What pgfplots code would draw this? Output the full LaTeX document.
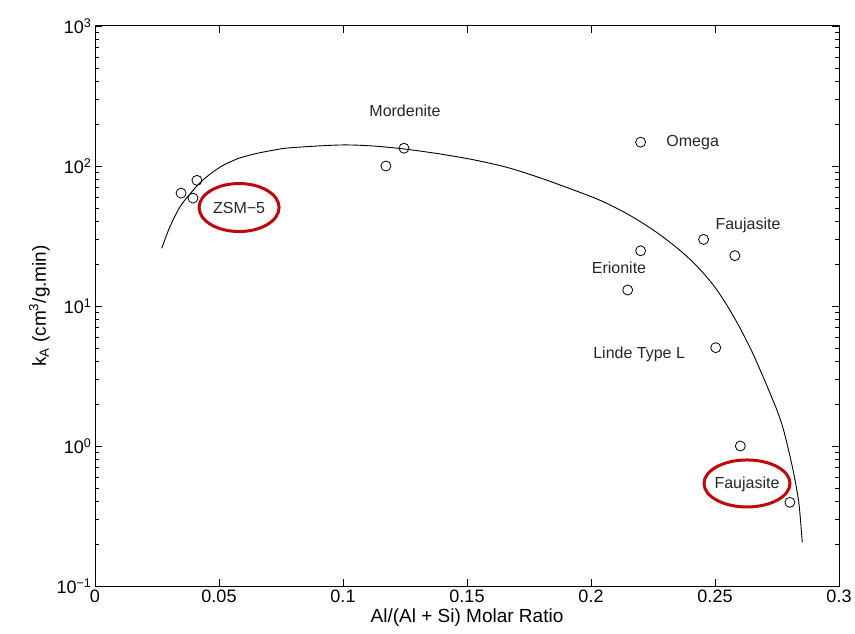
\documentclass[border=0pt]{standalone}
\usepackage{fontspec}
\setmainfont{Liberation Sans}
\usepackage{pgfplots}
\pgfplotsset{compat=1.18}
\definecolor{annred}{RGB}{192,8,8}
\tikzset{annot/.style={font=\fontsize{16bp}{18bp}\selectfont, text=black!85}}
\begin{document}
\begin{tikzpicture}
\begin{axis}[
  scale only axis, width=744bp, height=560bp,
  xmin=0, xmax=0.3, ymode=log, ymin=0.1, ymax=1000,
  xtick={0,0.05,0.1,0.15,0.2,0.25,0.3},
  xticklabels={0,0.05,0.1,0.15,0.2,0.25,0.3},
  ytick={0.1,1,10,100,1000},
  yticklabels={10\textsuperscript{−1},10\textsuperscript{0},10\textsuperscript{1},10\textsuperscript{2},10\textsuperscript{3}},
  tick align=inside,
  major tick length=7bp, minor tick length=4bp,
  axis line style={line width=1bp},
  every tick/.style={black, line width=0.7bp},
  ticklabel style={font=\fontsize{18bp}{20bp}\selectfont},
  label style={font=\fontsize{19bp}{22bp}\selectfont},
  xlabel={Al/(Al + Si) Molar Ratio},
  ylabel={k\textsubscript{A} (cm\textsuperscript{3}/g.min)},
]
\addplot[black, line width=0.9bp, smooth, tension=0.5] coordinates {
  (0.0269,25.8) (0.0302,36.8) (0.0343,51.2) (0.0383,63.1) (0.0423,75.9)
  (0.0470,89.1) (0.0517,101.2) (0.0580,113.5) (0.0652,123.0) (0.0720,129.7)
  (0.0786,134.9) (0.0988,141.3)
  (0.1120,139.0) (0.1250,132.1) (0.1391,121.9) (0.1525,110.9) (0.1660,97.9)
  (0.1794,82.4) (0.1929,67.5) (0.200,60.5) (0.205,55.5) (0.210,50.3)
  (0.215,45.1) (0.220,39.96) (0.225,35.0) (0.230,30.2) (0.235,25.7)
  (0.240,21.5) (0.245,17.4) (0.250,13.6) (0.255,10.0) (0.260,7.01)
  (0.265,4.68) (0.270,2.95) (0.2729,2.22) (0.275,1.80) (0.2775,1.33)
  (0.280,0.881) (0.2815,0.668) (0.283,0.484) (0.284,0.367) (0.2852,0.204)
};
\addplot[only marks, mark=o, mark size=5bp, mark options={line width=0.8bp, black}] coordinates {
  (0.0347,64) (0.0411,79) (0.0395,59) (0.1173,100) (0.1246,134)
  (0.2200,148) (0.2200,24.8) (0.2148,13.0) (0.2454,29.9) (0.2580,22.9)
  (0.2503,5.04) (0.2602,1.0) (0.2802,0.396)
};
\node[annot] at (axis cs:0.125,247) {Mordenite};
\node[annot, anchor=west] at (axis cs:0.2290,148) {Omega};
\node[annot] at (axis cs:0.2633,37.9) {Faujasite};
\node[annot] at (axis cs:0.2113,18.7) {Erionite};
\node[annot] at (axis cs:0.2194,4.54) {Linde Type L};
\node[annot] at (axis cs:0.0581,50.1) {ZSM−5};
\node[annot] at (axis cs:0.2629,0.535) {Faujasite};
\draw[annred, line width=3bp] (axis cs:0.0581,50.5) ellipse [x radius=40bp, y radius=24bp];
\draw[annred, line width=3bp] (axis cs:0.2629,0.54) ellipse [x radius=43bp, y radius=23.5bp];
\end{axis}
\pgfresetboundingbox
\path[use as bounding box] (current axis.south west) ++(-95bp,-48bp) rectangle ++(855bp,634bp);
\end{tikzpicture}
\end{document}
